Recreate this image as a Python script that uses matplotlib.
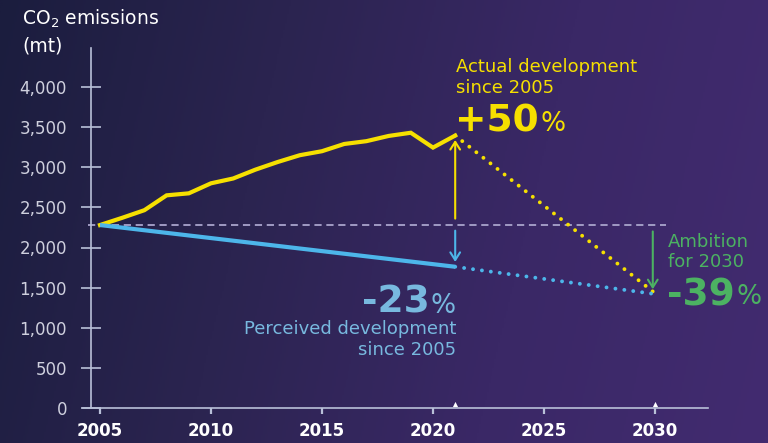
import numpy as np
import matplotlib
matplotlib.use('Agg')
import matplotlib.pyplot as plt
import matplotlib.transforms as mtransforms
from matplotlib.colors import LinearSegmentedColormap

# ---------------- data ----------------
years = list(range(2005, 2022))
actual = [2280, 2370, 2465, 2650, 2675, 2800, 2860, 2970, 3065, 3150,
          3200, 3290, 3325, 3390, 3430, 3245, 3395]
perceived_years = [2005, 2021]
perceived = [2280, 1760]
target_years = [2021, 2030]
actual_target = [3395, 1430]
perceived_target = [1760, 1420]
baseline_value = 2280
marker_years = [2021, 2030]
yticks = [0, 500, 1000, 1500, 2000, 2500, 3000, 3500, 4000]
ytick_labels = ['0', '500', '1,000', '1,500', '2,000', '2,500', '3,000', '3,500', '4,000']
xticks = [2005, 2010, 2015, 2020, 2025, 2030]
xtick_labels = ['2005', '2010', '2015', '2020', '2025', '2030']

# ---------------- style ----------------
YELLOW = '#f6e000'
BLUE = '#4db6ea'
BLUE_TXT = '#78b9df'
GREEN = '#4cb262'
AXIS = '#b9c0d8'
TICKTXT = '#cfd0de'
W, H = 768, 443

fig = plt.figure(figsize=(W / 100, H / 100), dpi=100)

# background gradient
bg = fig.add_axes([0, 0, 1, 1], zorder=-10)
gx = np.linspace(0, 1, 400)
gy = np.linspace(0, 1, 240)
GX, GY = np.meshgrid(gx, gy)
grad = np.clip(GX * 0.88 + GY * 0.12, 0, 1)
cmap = LinearSegmentedColormap.from_list('bg', ['#1b1d3e', '#2b2450', '#3a2866', '#422b70'])
bg.imshow(grad, cmap=cmap, aspect='auto', extent=[0, 1, 0, 1], origin='upper')
bg.axis('off')

# main axes mapping: 2005->100px, 2030->655px ; 0->408px, 4000->87px
x0, x1 = 2001, 2033
y0, y1 = -400, 5000
ppy = (655 - 100) / 25.0
ppv = (408 - 87) / 4000.0
left_px = 100 - (2005 - x0) * ppy
right_px = 655 + (x1 - 2030) * ppy
bot_px = 408 + (0 - y0) * ppv
top_px = 408 - y1 * ppv
ax = fig.add_axes([left_px / W, 1 - bot_px / H,
                   (right_px - left_px) / W, (bot_px - top_px) / H])
ax.set_xlim(x0, x1)
ax.set_ylim(y0, y1)
ax.patch.set_alpha(0)

for s in ['top', 'right']:
    ax.spines[s].set_visible(False)
ax.spines['left'].set_position(('data', 2004.6))
ax.spines['left'].set_bounds(0, 4490)
ax.spines['bottom'].set_position(('data', 0))
ax.spines['bottom'].set_bounds(2004.25, 2032.4)
for s in ['left', 'bottom']:
    ax.spines[s].set_color(AXIS)
    ax.spines[s].set_linewidth(1.2)

ax.set_yticks(yticks)
ax.set_yticklabels(ytick_labels)
ax.set_xticks(xticks)
ax.set_xticklabels(xtick_labels)
ax.tick_params(axis='y', direction='inout', length=13.7, width=1.2, color=AXIS,
               labelcolor=TICKTXT, labelsize=12, pad=10.5)
ax.tick_params(axis='x', direction='out', length=4, width=1.6, color=AXIS,
               labelcolor='white', labelsize=12, pad=6)
for lab in ax.get_xticklabels():
    lab.set_fontweight('bold')

# baseline dashed
ax.plot([2004.45, 2030.5], [baseline_value, baseline_value], color='#a9a4cc',
        lw=1.3, linestyle=(0, (4.0, 2.6)), zorder=2)

# lines
ax.plot(years, actual, color=YELLOW, lw=3.0, solid_joinstyle='miter', zorder=4)
ax.plot(perceived_years, perceived, color=BLUE, lw=3.0, solid_capstyle='butt', zorder=4)
ax.plot(target_years, actual_target, color=YELLOW, lw=2.8,
        linestyle=(0, (0.01, 2.3)), dash_capstyle='round', zorder=3)
ax.plot(target_years, perceived_target, color=BLUE, lw=2.8,
        linestyle=(0, (0.01, 2.3)), dash_capstyle='round', zorder=3)

# small triangle markers above axis
trans = mtransforms.offset_copy(ax.transData, fig=fig, x=0, y=4.5, units='dots')
ax.scatter(marker_years, [0, 0], marker='^', s=14, color='white', transform=trans,
           zorder=5, linewidths=0)

# arrows
ax.annotate('', xy=(2021, 3340), xytext=(2021, 2360),
            arrowprops=dict(arrowstyle='->,head_length=0.55,head_width=0.35',
                            color=YELLOW, lw=1.5, shrinkA=0, shrinkB=0))
ax.annotate('', xy=(2021, 1820), xytext=(2021, 2210),
            arrowprops=dict(arrowstyle='->,head_length=0.55,head_width=0.35',
                            color=BLUE, lw=1.5, shrinkA=0, shrinkB=0))
ax.annotate('', xy=(2029.9, 1480), xytext=(2029.9, 2200),
            arrowprops=dict(arrowstyle='->,head_length=0.55,head_width=0.35',
                            color=GREEN, lw=1.5, shrinkA=0, shrinkB=0))

# ---------------- texts ----------------
def ftext(x, y, s, **kw):
    kw.setdefault('va', 'baseline')
    return fig.text(x / W, 1 - y / H, s, **kw)

ftext(22, 25, 'CO$_2$ emissions', color='white', fontsize=13.5)
ftext(22, 52, '(mt)', color='white', fontsize=13.5)

ftext(456, 72, 'Actual development', color=YELLOW, fontsize=13)
ftext(456, 93, 'since 2005', color=YELLOW, fontsize=13)
t50 = ftext(455, 132, '+50', color=YELLOW, fontsize=27, fontweight='bold')
ax.annotate('%', xy=(1, 0), xycoords=t50, xytext=(1, 27 * 0.236),
            textcoords='offset points', va='baseline', ha='left',
            color=YELLOW, fontsize=19)

pct23 = ftext(456, 313, '%', color=BLUE_TXT, fontsize=19, ha='right')
ax.annotate('-23', xy=(0, 0), xycoords=pct23, xytext=(-1, 19 * 0.236),
            textcoords='offset points', va='baseline', ha='right',
            color=BLUE_TXT, fontsize=27, fontweight='bold')
ftext(456, 334, 'Perceived development', color=BLUE_TXT, fontsize=13, ha='right')
ftext(456, 355, 'since 2005', color=BLUE_TXT, fontsize=13, ha='right')

ftext(668, 247, 'Ambition', color=GREEN, fontsize=13)
ftext(668, 267, 'for 2030', color=GREEN, fontsize=13)
t39 = ftext(667, 305, '-39', color=GREEN, fontsize=27, fontweight='bold')
ax.annotate('%', xy=(1, 0), xycoords=t39, xytext=(1, 27 * 0.236),
            textcoords='offset points', va='baseline', ha='left',
            color=GREEN, fontsize=19)

fig.savefig('out.png', dpi=100)
